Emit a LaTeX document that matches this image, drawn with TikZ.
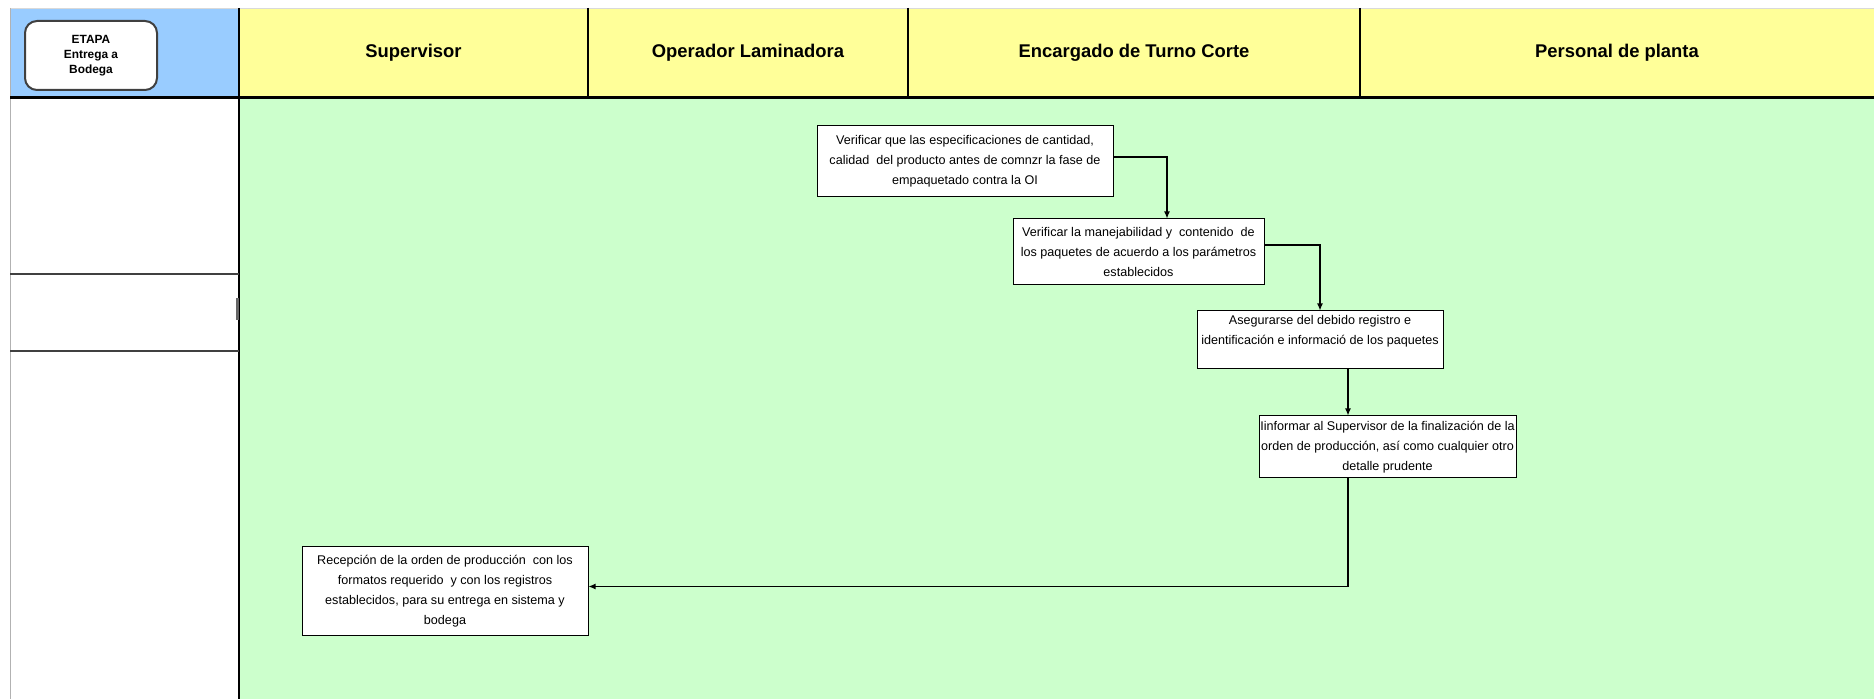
\documentclass[tikz,border=0pt]{standalone}
\usepackage{fontspec}
\setmainfont{Liberation Sans}
\usetikzlibrary{arrows.meta}
\definecolor{laneblue}{RGB}{153,204,255}
\definecolor{laneyellow}{RGB}{255,255,153}
\definecolor{lanegreen}{RGB}{204,255,204}

\begin{document}
\begin{tikzpicture}[
    x=0.5pt, y=-0.5pt,
    lanehead/.style={font=\fontsize{9.2pt}{11pt}\selectfont\bfseries},
    etapa/.style={rectangle, draw=black!75, line width=1pt, rounded corners=6pt, fill=white, minimum width=66pt, minimum height=34.5pt, align=center, inner sep=0pt, font=\fontsize{5.95pt}{7.35pt}\selectfont\bfseries},
    task/.style={rectangle, draw, line width=0.5pt, fill=white, align=center, inner sep=0pt, font=\fontsize{6.3pt}{10pt}\selectfont},
    flow/.style={draw, line width=0.6pt, -{Latex[length=3.5pt,width=3pt]}},
    divider/.style={line width=1pt}
]
\useasboundingbox (0,0) rectangle (1874,699);

% Lanes
\fill[laneblue] (10,8) rectangle (239,98);
\fill[laneyellow] (239,8) rectangle (1874,98);
\fill[lanegreen] (239,98) rectangle (1874,699);
\draw[black!15] (10,8) -- (1874,8);
\draw[black!30] (10,8) -- (10,699);
\foreach \x in {239,588,908,1360}
    \draw[divider] (\x,8) -- (\x,98);
\draw[divider] (239,98) -- (239,699);
\draw[line width=1.5pt] (10,98) -- (1874,98);
\foreach \y in {274,351}
    \draw[black!75, line width=1pt] (10,\y) -- (239,\y);
\draw[black!60, line width=1.2pt] (237.5,298) -- (237.5,320);

% Headers
\node[etapa] (Etapa) at (91,55.5) {ETAPA\\Entrega a\\Bodega};
\node[lanehead] (H-1) at (413.5,53) {Supervisor};
\node[lanehead] (H-2) at (748,53) {Operador Laminadora};
\node[lanehead] (H-3) at (1134,53) {Encargado de Turno Corte};
\node[lanehead] (H-4) at (1617,53) {Personal de planta};

% Tasks
\node[task, minimum width=148pt, minimum height=35.5pt] (T-1) at (965,161.5)
    {Verificar que las especificaciones de cantidad,\\calidad\ \ del producto antes de comnzr la fase de\\empaquetado contra la OI};
\node[task, minimum width=125.5pt, minimum height=33pt] (T-2) at (1138.5,252)
    {Verificar la manejabilidad y\ \ contenido\ \ de\\los paquetes de acuerdo a los parámetros\\establecidos};
\node[task, minimum width=123pt, minimum height=29pt] (T-3) at (1320,340)
    {Asegurarse del debido registro e\\identificación e informació de los paquetes\\~};
\node[task, minimum width=128.5pt, minimum height=31pt] (T-4) at (1387.5,447)
    {Iinformar al Supervisor de la finalización de la\\orden de producción, así como cualquier otro\\detalle prudente};
\node[task, minimum width=143pt, minimum height=44.5pt] (T-5) at (445,591.5)
    {Recepción de la orden de producción\ \ con los\\formatos requerido\ \ y con los registros\\establecidos, para su entrega en sistema y\\bodega};

% Connections
\draw[flow] ([yshift=2.25pt]T-1.east) -| ([xshift=14.25pt]T-2.north);
\draw[flow] ([yshift=3.5pt]T-2.east) -| (T-3.north);
\draw[flow] ([xshift=14pt]T-3.south) -- ([xshift=-19.75pt]T-4.north);
\draw[flow] ([xshift=-19.75pt]T-4.south) |- ([yshift=2.5pt]T-5.east);

\end{tikzpicture}
\end{document}
